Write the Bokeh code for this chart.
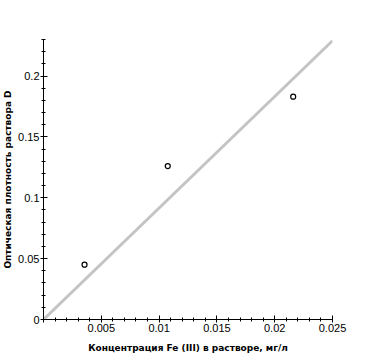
from bokeh.plotting import figure
from bokeh.models import FixedTicker, Range1d
from bokeh.embed import file_html
from bokeh.resources import INLINE

# data
conc_points = [0.00355, 0.01075, 0.0216]
absorb_points = [0.045, 0.126, 0.183]
fit_x = [0.0, 0.025]
fit_y = [0.0, 0.229]

x_ticks = [0.0, 0.005, 0.01, 0.015, 0.02, 0.025]
x_tick_labels = ["", "0.005", "0.01", "0.015", "0.02", "0.025"]
y_ticks = [0.0, 0.05, 0.1, 0.15, 0.2]
y_tick_labels = ["0", "0.05", "0.1", "0.15", "0.2"]
x_minor = [i / 1000 for i in range(0, 26)]
y_minor = [i / 100 for i in range(0, 24)]

x_title = "Концентрация Fe (III) в растворе, мг/л"
y_title = "Оптическая плотность раствора D"

p = figure(frame_width=289, frame_height=280, output_backend="svg", toolbar_location=None,
           x_range=Range1d(0, 0.025), y_range=Range1d(0, 0.23),
           min_border_left=30, min_border_right=20, min_border_top=39, min_border_bottom=20)
p.outline_line_color = None
p.grid.visible = False
p.background_fill_color = "white"
p.border_fill_color = "white"

p.line(fit_x, fit_y, line_color="#c4c4c4", line_width=3)
p.scatter(conc_points, absorb_points, marker="circle", size=5, fill_color="white",
          line_color="black", line_width=1.2)

for ax, ticks, labels, minor in ((p.xaxis[0], x_ticks, x_tick_labels, x_minor),
                                 (p.yaxis[0], y_ticks, y_tick_labels, y_minor)):
    ax.ticker = FixedTicker(ticks=ticks, minor_ticks=minor)
    ax.major_label_overrides = {t: l for t, l in zip(ticks, labels)}
    ax.major_tick_in = 4
    ax.major_tick_out = 3
    ax.minor_tick_in = 2
    ax.minor_tick_out = 2
    ax.axis_line_color = "black"
    ax.major_tick_line_color = "black"
    ax.minor_tick_line_color = "black"
    ax.major_label_text_font = "Liberation Sans"
    ax.major_label_text_font_size = "11px"
    ax.major_label_text_color = "black"
    ax.major_label_standoff = 1
    ax.axis_label_text_font = "DejaVu Sans"
    ax.axis_label_text_font_style = "bold"
    ax.axis_label_text_font_size = "9px"
    ax.axis_label_text_color = "black"

p.xaxis.axis_label = x_title
p.yaxis.axis_label = y_title
p.xaxis.axis_label_standoff = 8
p.yaxis.axis_label_standoff = 2

open("out.html", "w").write(file_html(p, INLINE))
